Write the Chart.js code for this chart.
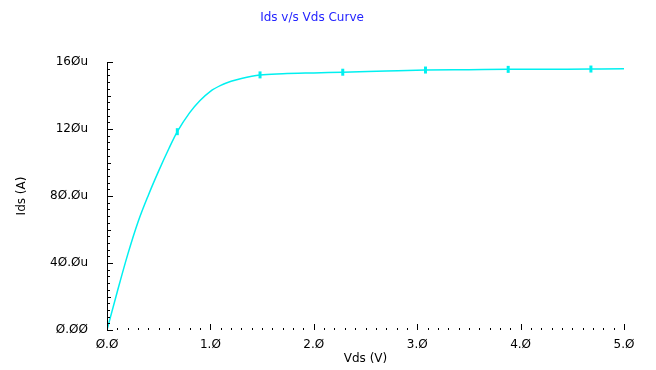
<!DOCTYPE html>
<html>
<head>
<meta charset="utf-8">
<script src="https://cdn.jsdelivr.net/npm/chart.js@4.4.1/dist/chart.umd.min.js"></script>
<style>
  html, body { margin: 0; padding: 0; background: #fff; }
</style>
</head>
<body>
<canvas id="idsChart" width="656" height="370"></canvas>
<script>
// Ids vs Vds data (Vds in volts, Ids in uA)
var vds = [0, 0.1, 0.2, 0.3, 0.4, 0.5, 0.6, 0.68, 0.8, 0.9, 1.0, 1.1, 1.2, 1.3, 1.48, 1.7, 2.0, 2.28, 2.7, 3.08, 3.5, 3.88, 4.3, 4.68, 5.0];
var ids = [0, 23, 45, 64.5, 80.5, 95, 108.5, 118.4, 129.8, 137, 142.5, 146, 148.5, 150.2, 152.3, 153, 153.5, 153.9, 154.6, 155.2, 155.4, 155.6, 155.7, 155.8, 155.9];
// sample points that carry a marker on the trace
var markerVds = [0.68, 1.48, 2.28, 3.08, 3.88, 4.68];

var xTickLabels = ["Ø.Ø", "1.Ø", "2.Ø", "3.Ø", "4.Ø", "5.Ø"];
var yTickLabels = ["Ø.ØØ", "4Ø.Øu", "8Ø.Øu", "12Øu", "16Øu"];

var points = vds.map(function (v, i) { return { x: v, y: ids[i] }; });
var radii = vds.map(function (v) { return markerVds.indexOf(v) >= 0 ? 3.5 : 0; });

// tick marks drawn inside the plot, like the simulator's axes
var axisTicks = {
  id: 'axisTicks',
  afterDraw: function (chart) {
    var c = chart.ctx, xs = chart.scales.x, ys = chart.scales.y;
    var x0 = xs.getPixelForValue(0), yb = ys.getPixelForValue(0);
    c.save();
    c.strokeStyle = '#000';
    c.lineWidth = 1;
    // y axis line
    c.beginPath();
    c.moveTo(x0 + 0.5, ys.getPixelForValue(160));
    c.lineTo(x0 + 0.5, yb);
    c.stroke();
    // y ticks every 4u
    for (var i = 0; i <= 40; i++) {
      var py = Math.round(ys.getPixelForValue(i * 4)) + 0.5;
      var len = i % 10 === 0 ? 6 : (i % 5 === 0 ? 4 : 3);
      c.beginPath();
      c.moveTo(x0, py);
      c.lineTo(x0 + len, py);
      c.stroke();
    }
    // x ticks every 0.1 V (dotted axis)
    for (var j = 0; j <= 50; j++) {
      var px = Math.round(xs.getPixelForValue(j / 10)) + 0.5;
      var l = j % 10 === 0 ? 6 : 2;
      c.beginPath();
      c.moveTo(px, yb);
      c.lineTo(px, yb - l);
      c.stroke();
    }
    c.restore();
  }
};

var ctx = document.getElementById('idsChart').getContext('2d');
var idsChart = new Chart(ctx, {
  type: 'line',
  data: {
    datasets: [{
      data: points,
      borderColor: '#00f0f0',
      backgroundColor: '#00f0f0',
      borderWidth: 1.5,
      pointStyle: 'line',
      pointRotation: 90,
      pointRadius: radii,
      pointBorderWidth: 3,
      pointBorderColor: '#00f0f0',
      cubicInterpolationMode: 'monotone'
    }]
  },
  options: {
    responsive: false,
    animation: false,
    devicePixelRatio: 1,
    layout: { padding: { left: 0, right: 32, top: 0, bottom: 0 } },
    plugins: {
      legend: { display: false },
      tooltip: { enabled: false },
      title: {
        display: true,
        text: 'Ids v/s Vds Curve',
        color: '#2424ff',
        font: { family: 'DejaVu Sans', size: 12, weight: 'normal' },
        padding: { top: 11, bottom: 36.6 }
      }
    },
    scales: {
      x: {
        type: 'linear',
        min: 0,
        max: 5,
        grid: { display: false },
        border: { display: false },
        afterFit: function (s) { s.height = 40; },
        ticks: {
          stepSize: 1,
          padding: 0,
          color: '#000',
          font: { family: 'DejaVu Sans', size: 12 },
          callback: function (v) { return xTickLabels[Math.round(v)]; }
        },
        title: {
          display: true,
          text: 'Vds (V)',
          color: '#000',
          font: { family: 'DejaVu Sans', size: 12 },
          padding: { top: 0, bottom: 4 }
        }
      },
      y: {
        type: 'linear',
        min: 0,
        max: 160,
        grid: { display: false },
        border: { display: false },
        afterFit: function (s) { s.width = 107; },
        ticks: {
          stepSize: 40,
          padding: 11,
          color: '#000',
          font: { family: 'DejaVu Sans', size: 12 },
          callback: function (v) { return yTickLabels[Math.round(v / 40)]; }
        },
        title: {
          display: true,
          text: 'Ids (A)',
          color: '#000',
          font: { family: 'DejaVu Sans', size: 12 },
          padding: { top: 15, bottom: 0 }
        }
      }
    }
  },
  plugins: [axisTicks]
});
</script>
</body>
</html>
